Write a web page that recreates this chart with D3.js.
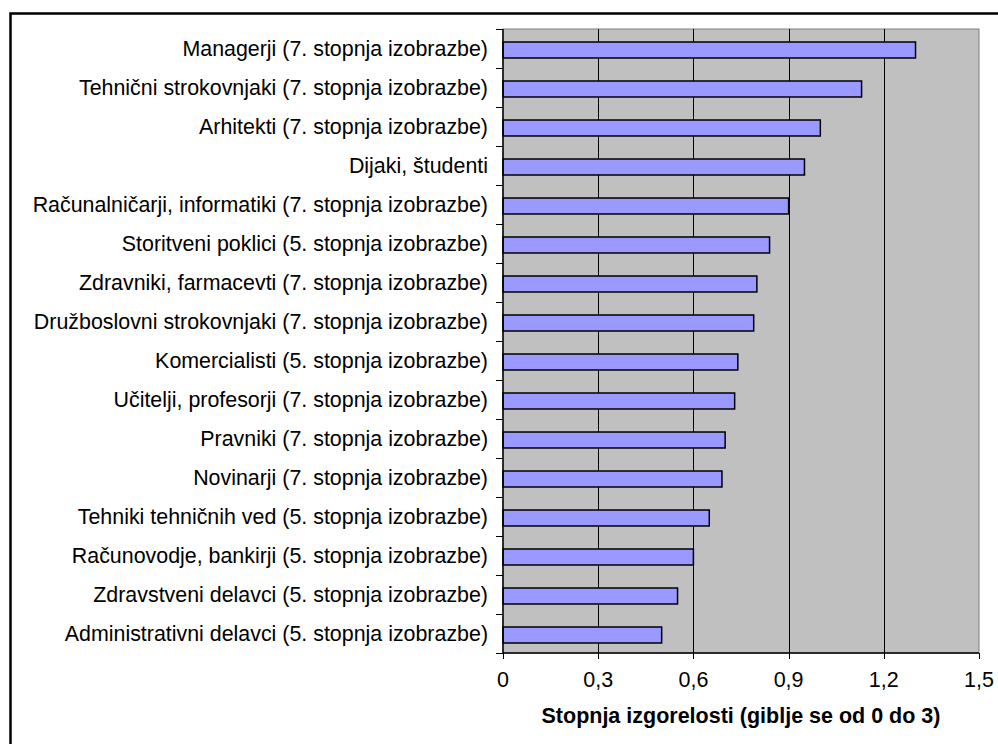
<!DOCTYPE html>
<html>
<head>
<meta charset="utf-8">
<script src="https://cdn.jsdelivr.net/npm/d3@7/dist/d3.min.js"></script>
<style>
  html, body { margin: 0; padding: 0; background: #fff; }
  svg { display: block; }
  text { font-family: "Liberation Sans", Arial, sans-serif; fill: #000; }
</style>
</head>
<body>
<svg id="chart" width="998" height="744"></svg>
<script>
// Occupational groups, top to bottom
const categories = [
  "Managerji (7. stopnja izobrazbe)",
  "Tehnični strokovnjaki (7. stopnja izobrazbe)",
  "Arhitekti (7. stopnja izobrazbe)",
  "Dijaki, študenti",
  "Računalničarji, informatiki (7. stopnja izobrazbe)",
  "Storitveni poklici (5. stopnja izobrazbe)",
  "Zdravniki, farmacevti (7. stopnja izobrazbe)",
  "Družboslovni strokovnjaki (7. stopnja izobrazbe)",
  "Komercialisti (5. stopnja izobrazbe)",
  "Učitelji, profesorji (7. stopnja izobrazbe)",
  "Pravniki (7. stopnja izobrazbe)",
  "Novinarji (7. stopnja izobrazbe)",
  "Tehniki tehničnih ved (5. stopnja izobrazbe)",
  "Računovodje, bankirji (5. stopnja izobrazbe)",
  "Zdravstveni delavci (5. stopnja izobrazbe)",
  "Administrativni delavci (5. stopnja izobrazbe)"
];

// Burnout level per group
const values = [1.30, 1.13, 1.00, 0.95, 0.90, 0.84, 0.80, 0.79, 0.74, 0.73, 0.70, 0.69, 0.65, 0.60, 0.55, 0.50];

const xTicks = [0, 0.3, 0.6, 0.9, 1.2, 1.5];
const xTickLabels = ["0", "0,3", "0,6", "0,9", "1,2", "1,5"];
const xAxisTitle = "Stopnja izgorelosti (giblje se od 0 do 3)";

const svg = d3.select("#chart");

const plot = { left: 503, right: 979, top: 29, bottom: 653 };

const x = d3.scaleLinear().domain([0, 1.5]).range([plot.left, plot.right]);
const y = d3.scaleBand().domain(categories).range([plot.top, plot.bottom])
  .paddingInner(0.59).paddingOuter(0.295);
const yOuter = d3.scaleBand().domain(categories).range([plot.top, plot.bottom]);

// Outer chart frame
svg.append("rect")
  .attr("x", 10.5).attr("y", 13.5)
  .attr("width", 1100).attr("height", 900)
  .attr("fill", "#fff").attr("stroke", "#000").attr("stroke-width", 2.5);

// Plot area background
svg.append("rect")
  .attr("x", plot.left).attr("y", plot.top)
  .attr("width", plot.right - plot.left).attr("height", plot.bottom - plot.top)
  .attr("fill", "#c0c0c0").attr("stroke", "#808080").attr("stroke-width", 1);

// Vertical gridlines
svg.append("g")
  .selectAll("line")
  .data(xTicks.filter(d => d > 0 && d < 1.5))
  .join("line")
  .attr("x1", d => Math.round(x(d)) + 0.5).attr("x2", d => Math.round(x(d)) + 0.5)
  .attr("y1", plot.top).attr("y2", plot.bottom)
  .attr("stroke", "#000").attr("stroke-width", 1);

// Bars
svg.append("g")
  .selectAll("rect")
  .data(categories)
  .join("rect")
  .attr("x", x(0))
  .attr("y", d => y(d) + 1.5)
  .attr("width", (d, i) => x(values[i]) - x(0))
  .attr("height", y.bandwidth())
  .attr("fill", "#9999ff")
  .attr("stroke", "#000")
  .attr("stroke-width", 1.5);

// Y axis: tick marks at category boundaries, labels right-aligned
const yAxis = svg.append("g");
yAxis.append("line")
  .attr("x1", plot.left).attr("x2", plot.left)
  .attr("y1", plot.top).attr("y2", plot.bottom)
  .attr("stroke", "#000").attr("stroke-width", 1.5);
const yBounds = categories.map(d => yOuter(d)).concat([plot.bottom]);
yAxis.selectAll("line.tick")
  .data(yBounds)
  .join("line")
  .attr("class", "tick")
  .attr("x1", plot.left - 7).attr("x2", plot.left)
  .attr("y1", d => Math.round(d) + 0.5).attr("y2", d => Math.round(d) + 0.5)
  .attr("stroke", "#000").attr("stroke-width", 1);
yAxis.selectAll("text")
  .data(categories)
  .join("text")
  .attr("x", plot.left - 15)
  .attr("y", d => yOuter(d) + yOuter.bandwidth() / 2)
  .attr("dy", "0.37em")
  .attr("text-anchor", "end")
  .attr("font-size", 21.4)
  .text(d => d);

// X axis
const xAxis = svg.append("g");
xAxis.append("line")
  .attr("x1", plot.left).attr("x2", plot.right)
  .attr("y1", plot.bottom).attr("y2", plot.bottom)
  .attr("stroke", "#000").attr("stroke-width", 1.5);
xAxis.selectAll("line.tick")
  .data(xTicks)
  .join("line")
  .attr("class", "tick")
  .attr("x1", d => Math.round(x(d)) + 0.5).attr("x2", d => Math.round(x(d)) + 0.5)
  .attr("y1", plot.bottom).attr("y2", plot.bottom + 6)
  .attr("stroke", "#000").attr("stroke-width", 1);
xAxis.selectAll("text")
  .data(xTicks)
  .join("text")
  .attr("x", d => x(d))
  .attr("y", 687)
  .attr("text-anchor", "middle")
  .attr("font-size", 21.5)
  .text((d, i) => xTickLabels[i]);

// Axis title
svg.append("text")
  .attr("x", (plot.left + plot.right) / 2)
  .attr("y", 723)
  .attr("text-anchor", "middle")
  .attr("font-size", 21.5)
  .attr("font-weight", "bold")
  .text(xAxisTitle);
</script>
</body>
</html>
